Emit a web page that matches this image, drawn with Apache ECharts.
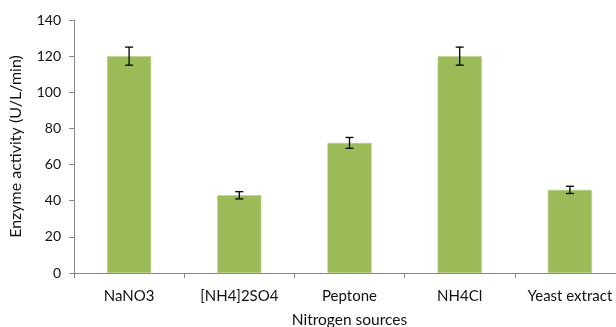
<!DOCTYPE html>
<html>
<head>
<meta charset="utf-8">
<script src="https://cdn.jsdelivr.net/npm/echarts@6/dist/echarts.min.js"></script>
<style>
  html, body { margin: 0; padding: 0; background: #fff; }
  #chart { width: 616px; height: 327px; }
</style>
</head>
<body>
<div id="chart"></div>
<script>
// Nitrogen sources and measured enzyme activity (mean ± error)
const categories = ['NaNO3', '[NH4]2SO4', 'Peptone', 'NH4Cl', 'Yeast extract'];
const activity = [120, 43, 72, 120, 46];
const errors = [5, 2, 3, 5, 2];
const yTicks = [0, 20, 40, 60, 80, 100, 120, 140];

const FONT = 'Lato';
const chart = echarts.init(document.getElementById('chart'));

const errorData = categories.map((c, i) => [i, activity[i] - errors[i], activity[i] + errors[i]]);

chart.setOption({
  animation: false,
  textStyle: { fontFamily: FONT },
  grid: { left: 74, top: 20, bottom: 54, width: 551, containLabel: false, outerBoundsMode: 'none' },
  xAxis: {
    type: 'category',
    data: categories,
    name: 'Nitrogen sources',
    nameLocation: 'middle',
    nameGap: 39,
    nameTextStyle: { fontFamily: FONT, fontSize: 15.5, color: '#111' },
    axisLine: { lineStyle: { color: '#868686', width: 1 } },
    axisTick: { show: true, length: 5, interval: 0, lineStyle: { color: '#868686' } },
    axisLabel: { fontFamily: FONT, fontSize: 15, color: '#111', margin: 16, interval: 0, hideOverlap: false }
  },
  yAxis: {
    type: 'value',
    min: yTicks[0],
    max: yTicks[yTicks.length - 1],
    interval: yTicks[1] - yTicks[0],
    name: 'Enzyme activity (U/L/min)',
    nameLocation: 'middle',
    nameGap: 50,
    nameTextStyle: { fontFamily: FONT, fontSize: 16, color: '#111' },
    axisLine: { show: true, lineStyle: { color: '#868686', width: 1 } },
    axisTick: { show: true, length: 5, lineStyle: { color: '#868686' } },
    axisLabel: { fontFamily: FONT, fontSize: 14, color: '#111', margin: 13 },
    splitLine: { show: false }
  },
  series: [
    {
      type: 'bar',
      data: activity,
      barWidth: '40%',
      itemStyle: { color: '#9BBB59', borderColor: '#b9d08a', borderWidth: 0.6 }
    },
    {
      type: 'custom',
      data: errorData,
      z: 10,
      renderItem: function (params, api) {
        const x = api.value(0);
        const lo = api.coord([x, api.value(1)]);
        const hi = api.coord([x, api.value(2)]);
        const cap = 4;
        const style = { stroke: '#000', lineWidth: 1.3 };
        return {
          type: 'group',
          children: [
            { type: 'line', shape: { x1: lo[0], y1: lo[1], x2: hi[0], y2: hi[1] }, style: style },
            { type: 'line', shape: { x1: hi[0] - cap, y1: hi[1], x2: hi[0] + cap, y2: hi[1] }, style: style },
            { type: 'line', shape: { x1: lo[0] - cap, y1: lo[1], x2: lo[0] + cap, y2: lo[1] }, style: style }
          ]
        };
      }
    }
  ]
});
</script>
</body>
</html>
